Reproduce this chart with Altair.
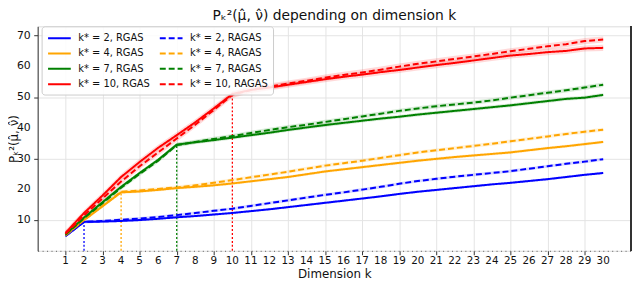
import altair as alt
import pandas as pd

k_values = list(range(1, 31))
y_ticks = [10, 20, 30, 40, 50, 60, 70]

blue_rgas = [4.8, 9.4, 9.5, 9.7, 10.0, 10.4, 10.9, 11.3, 11.8, 12.3, 12.9, 13.5, 14.2, 14.9, 15.6,
             16.3, 17.0, 17.7, 18.5, 19.2, 19.8, 20.4, 21.0, 21.6, 22.1, 22.7, 23.3, 24.0, 24.7, 25.3]
blue_ragas = [4.8, 9.4, 9.7, 10.1, 10.5, 11.0, 11.6, 12.3, 13.0, 13.7, 14.6, 15.5, 16.4, 17.3, 18.2,
              19.0, 19.9, 20.8, 21.8, 22.7, 23.4, 24.1, 24.7, 25.3, 25.9, 26.7, 27.5, 28.3, 29.0, 29.8]
orange_rgas = [5.0, 10.0, 14.5, 19.0, 19.3, 19.8, 20.4, 20.8, 21.3, 21.9, 22.6, 23.3, 24.0, 24.9, 25.8,
               26.5, 27.2, 27.9, 28.6, 29.3, 29.9, 30.5, 31.0, 31.5, 32.0, 32.7, 33.4, 34.0, 34.7, 35.4]
orange_ragas = [5.0, 10.0, 14.6, 19.2, 19.6, 20.1, 20.6, 21.3, 22.1, 23.0, 23.9, 24.8, 25.7, 26.7, 27.7,
                28.5, 29.3, 30.2, 31.1, 32.0, 32.7, 33.4, 34.1, 34.8, 35.6, 36.4, 37.2, 38.0, 38.7, 39.4]
green_rgas = [5.3, 10.8, 15.8, 20.8, 25.3, 29.6, 34.5, 35.3, 36.0, 36.8, 37.6, 38.4, 39.3, 40.1, 40.9,
              41.6, 42.3, 43.0, 43.6, 44.3, 44.9, 45.5, 46.1, 46.7, 47.3, 48.0, 48.7, 49.4, 49.8, 50.7]
green_ragas = [5.2, 10.6, 15.5, 20.5, 25.0, 29.3, 34.4, 35.4, 36.4, 37.3, 38.3, 39.3, 40.2, 41.0, 41.9,
               42.8, 43.7, 44.6, 45.5, 46.3, 47.0, 47.6, 48.2, 48.9, 49.8, 50.6, 51.4, 52.2, 53.1, 54.0]
red_rgas = [5.8, 12.3, 18.0, 24.0, 28.9, 33.5, 37.6, 41.8, 46.3, 51.0, 52.3, 53.1, 54.0, 54.9, 55.8,
            56.6, 57.3, 58.1, 58.8, 59.6, 60.4, 61.1, 61.9, 62.7, 63.5, 64.0, 64.6, 65.0, 65.8, 66.0]
red_ragas = [5.5, 11.5, 17.0, 22.5, 27.5, 32.0, 36.5, 41.0, 45.8, 50.7, 52.3, 53.4, 54.4, 55.3, 56.3,
             57.2, 58.0, 58.9, 59.9, 60.8, 61.6, 62.4, 63.2, 64.0, 64.9, 65.7, 66.5, 67.2, 68.2, 68.7]

# legend order (filled column by column): RGAS column, then RAGAS column
series_names = ["k* = 2, RGAS", "k* = 4, RGAS", "k* = 7, RGAS", "k* = 10, RGAS",
                "k* = 2, RAGAS", "k* = 4, RAGAS", "k* = 7, RAGAS", "k* = 10, RAGAS"]
series_values = [blue_rgas, orange_rgas, green_rgas, red_rgas,
                 blue_ragas, orange_ragas, green_ragas, red_ragas]
band_half = [0.4, 0.5, 0.6, 1.0, 0.5, 0.6, 0.7, 1.0]
series_colors = ["#0000ff", "#ffa500", "#008000", "#ff0000",
                 "#0000ff", "#ffa500", "#008000", "#ff0000"]
series_dash = [[1, 0], [1, 0], [1, 0], [1, 0], [6, 3], [6, 3], [6, 3], [6, 3]]

k_star = [2, 4, 7, 10]
k_star_series = ["k* = 2, RGAS", "k* = 4, RGAS", "k* = 7, RGAS", "k* = 10, RGAS"]

rows = []
for name, vals, hw in zip(series_names, series_values, band_half):
    for k, v in zip(k_values, vals):
        rows.append({"k": k, "series": name, "value": v, "lo": v - hw, "hi": v + hw})
df = pd.DataFrame(rows)

vrows = []
for ks, name in zip(k_star, k_star_series):
    vals = series_values[series_names.index(name)]
    vrows.append({"k": ks, "series": name, "top": vals[ks - 1], "bottom": 0})
vdf = pd.DataFrame(vrows)

xlab_df = pd.DataFrame({"k": k_values})
ylab_df = pd.DataFrame({"v": y_ticks})

W, H = 600, 227

xscale = alt.Scale(domain=[-0.5, 31.5], nice=False, zero=False)
yscale = alt.Scale(domain=[0, 73], nice=False, zero=False)
cscale = alt.Scale(domain=series_names, range=series_colors)
dscale = alt.Scale(domain=series_names, range=series_dash)

xaxis = alt.Axis(values=k_values, title="Dimension k", grid=True, labels=False,
                 titleY=27, titleBaseline="alphabetic",
                 domainColor="#777", domainDash=[1, 3.5], domainWidth=1.2)
yaxis = alt.Axis(values=y_ticks, title="Pₖ²(μ̂, ν̂)", grid=True, labels=False,
                 domainColor="#333",
                 titleX=-24, titleY=H / 2, titleAngle=270, titleAlign="center",
                 titleBaseline="middle")

legend = alt.Legend(orient="none", legendX=4, legendY=0, columns=2,
                    symbolType="M-2,0H2", symbolSize=132, symbolStrokeWidth=2,
                    symbolOpacity=1, symbolOffset=6, labelFontSize=10, labelColor="#111",
                    columnPadding=5, rowPadding=3.5, labelOffset=12, padding=5,
                    fillColor="rgba(255,255,255,0.85)", strokeColor="#cccccc",
                    cornerRadius=3, labelLimit=200)

band = alt.Chart(df).mark_area(opacity=0.15).encode(
    x=alt.X("k:Q", scale=xscale, axis=xaxis),
    y=alt.Y("lo:Q", scale=yscale, axis=yaxis),
    y2="hi:Q",
    color=alt.Color("series:N", scale=cscale, title=None, legend=legend),
    detail="series:N",
)

vlines = alt.Chart(vdf).mark_rule(strokeDash=[2, 2], strokeWidth=1.3).encode(
    x=alt.X("k:Q", scale=xscale),
    y=alt.Y("bottom:Q", scale=yscale),
    y2="top:Q",
    color=alt.Color("series:N", scale=cscale, title=None, legend=legend),
)

lines = alt.Chart(df).mark_line(strokeWidth=2).encode(
    x=alt.X("k:Q", scale=xscale),
    y=alt.Y("value:Q", scale=yscale),
    color=alt.Color("series:N", scale=cscale, title=None, legend=legend),
    strokeDash=alt.StrokeDash("series:N", scale=dscale, title=None, legend=legend),
)

xlabels = alt.Chart(xlab_df).mark_text(fontSize=10.5, baseline="top", color="#111").encode(
    x=alt.X("k:Q", scale=xscale),
    y=alt.value(H + 5),
    text=alt.Text("k:Q", format="d"),
)

ylabels = alt.Chart(ylab_df).mark_text(fontSize=11, align="right", baseline="middle",
                                       color="#111").encode(
    x=alt.value(-7),
    y=alt.Y("v:Q", scale=yscale),
    text=alt.Text("v:Q", format="d"),
)

right_frame = alt.Chart(df).mark_rule(color="#333", strokeWidth=1).encode(
    x=alt.value(W), y=alt.value(0), y2=alt.value(H)
)

chart = alt.layer(band, vlines, lines, xlabels, ylabels, right_frame).properties(
    width=W, height=H,
    title=alt.Title("Pₖ²(μ̂, ν̂) depending on dimension k", fontSize=14,
                    fontWeight="normal", color="#111", offset=3),
    autosize=alt.AutoSizeParams(type="none"),
    padding={"left": 30, "top": 17, "right": 1, "bottom": 28},
).configure(font="DejaVu Sans").configure_view(stroke="#dddddd").configure_axis(
    gridColor="#e4e4e4", titleFontSize=12, titleFontWeight="normal",
    titleColor="#111", tickColor="#333", tickSize=4
)

chart.save("out.html", embed_options={"renderer": "svg", "actions": False})
